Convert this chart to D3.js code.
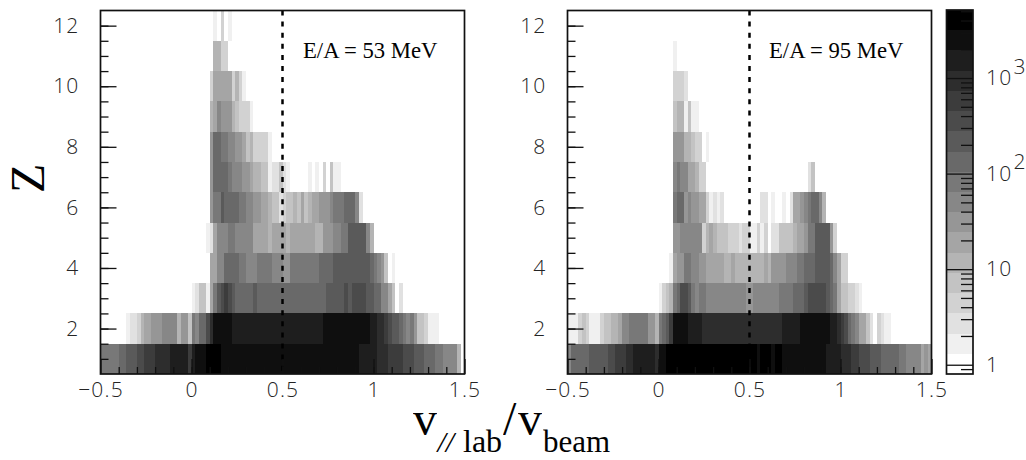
<!DOCTYPE html>
<html>
  <head>
    <meta charset="utf-8" />
    <script src="https://d3js.org/d3.v7.min.js"></script>
    <style>
      body { margin: 0; background: white; }
      svg { display: block; }
      .tick text { font-family: "Open Sans", sans-serif; font-weight: 300; font-size: 21px; letter-spacing: 1.2px; fill: #222; opacity: 0.99; }
      .tick line { stroke: #111; stroke-width: 1.3; }
      .frame { fill: none; stroke: #111; stroke-width: 1.7; }
      .serif { font-family: "Liberation Serif", serif; fill: black; opacity: 0.99; }
    </style>
  </head>
  <body>
    <svg id="chart" width="1026" height="460"></svg>

    <script>
      // bins: 100 in v (-0.5 .. 1.5), 12 in Z (0.5 .. 12.5)
      // rows go Z=1 .. Z=12, each row starts at its bin in *Start
      const leftStart = [0, 7, 25, 30, 29, 30, 30, 30, 30, 30, 31, 31];
      const leftRows = [
        [80, 80, 80, 80, 80, 130, 130, 210, 210, 210, 350, 350, 560, 560, 560, 920, 920, 920, 920, 1500,
          1500, 1500, 1500, 1500, 560, 1500, 2400, 2400, 2400, 3900, 3900, 3900, 3900,
          2400, 2400, 2400, 2400, 2400, 2400, 2400, 2400, 2400, 2400, 2400, 2400, 2400, 2400, 2400, 2400, 2400, 2400, 2400, 2400,
          2400, 2400, 2400, 2400, 2400, 2400, 2400, 2400, 2400, 2400, 2400, 2400, 2400, 2400, 2400, 2400, 2400, 2400,
          1500, 1500, 1500, 1500, 1500, 920, 920, 920, 560, 560, 560, 560, 350, 350, 350, 210, 210, 210, 130, 130, 130, 80, 80, 50, 50, 50, 50, 12],
        [2, 3, 3, 4, 12, 19, 19, 31, 31, 31, 50, 50, 50, 50, 12, 31, 31, 7, 80, 50, 130, 130, 350, 920,
          2400, 2400, 2400, 2400, 2400,
          1500, 1500, 1500, 1500, 1500, 1500, 1500, 1500, 1500, 1500, 1500, 1500, 1500, 1500, 1500, 1500, 1500, 1500, 1500, 1500, 1500, 1500, 1500, 1500, 1500,
          2400, 2400, 2400, 2400, 2400, 2400, 2400, 2400, 2400, 2400, 2400, 2400, 2400,
          1500, 1500, 920, 920, 560, 350, 210, 210, 130, 80, 50, 80, 31, 7, 7, 4, 2, 2, 2],
        [2, 3, 7, 7, 2, 19, 80, 210, 350, 560, 350, 210, 130, 130, 130, 130, 130, 210,
          130, 130, 130, 130, 130, 130, 130, 130, 130, 130, 130, 130, 130, 130, 130, 130, 130, 130, 130,
          210, 210, 210, 210, 210, 350, 210, 350, 350, 350, 350, 210, 210, 130, 130, 50, 50, 19, 7, 0, 3],
        [19, 19, 50, 50, 130, 130, 130, 130, 80, 80, 50, 50, 50, 80, 80, 80, 80, 50, 50, 50, 31, 31,
          80, 80, 80, 80, 80, 80, 80, 80, 130, 130, 130, 130,
          210, 210, 210, 210, 210, 210, 210, 210, 210, 210, 130, 80, 50, 31, 7, 0, 2],
        [2, 3, 19, 50, 50, 50, 80, 80, 50, 50, 50, 50, 50, 19, 19, 19, 19, 12, 19, 19, 19, 19, 12,
          19, 19, 19, 19, 19, 19, 19, 12, 12, 31, 31, 31, 50, 50, 80, 80, 210, 210, 210, 210, 210, 50, 12],
        [31, 80, 80, 210, 130, 130, 130, 130, 80, 80, 50, 50, 31, 31, 19, 19, 12, 7, 7, 3, 4, 7, 7, 12, 7, 19, 7, 12,
          19, 19, 31, 31, 31, 50, 80, 80, 80, 130, 130, 130, 50, 3],
        [31, 130, 130, 130, 130, 80, 50, 50, 50, 31, 31, 19, 12, 12, 7, 7, 2, 3, 3, 7, 3, 2,
          0, 0, 0, 0, 0, 2, 0, 2, 0, 4, 0, 7, 2, 2],
        [31, 130, 130, 80, 80, 50, 50, 31, 31, 19, 7, 12, 4, 4, 4, 4, 2],
        [12, 19, 50, 31, 31, 31, 12, 7, 4, 4, 4, 2],
        [4, 19, 19, 19, 19, 19, 4, 12, 4, 2],
        [12, 12, 4, 4],
        [2, 0, 4, 0, 2]
      ];

      const rightStart = [0, 0, 25, 28, 29, 29, 29, 29, 29, 29, 29, 0];
      const rightRows = [
        [50, 130, 130, 130, 130, 130, 210, 210, 210, 210, 210, 350, 350, 560, 560, 560, 920, 920,
          1500, 1500, 1500, 1500, 1500, 1500, 920, 2400, 2400,
          3900, 3900, 3900, 3900, 3900, 3900, 3900, 3900, 3900, 3900, 3900, 3900, 3900, 3900, 3900, 3900, 3900, 3900, 3900, 3900, 3900, 3900, 3900, 3900, 3900,
          2400, 3900, 3900, 3900, 2400, 3900, 3900,
          2400, 2400, 2400, 2400, 2400, 2400, 2400, 2400, 2400, 2400, 2400, 2400,
          1500, 1500, 1500, 1500, 920, 920, 920, 560, 560, 350, 350, 350, 210, 210, 210, 130, 130, 130, 130, 130, 80, 80, 50, 50, 50, 50, 19, 31, 19],
        [2, 2, 2, 4, 7, 4, 2, 2, 2, 4, 7, 7, 12, 12, 19, 50, 50, 80, 80, 80, 80, 80, 31, 31, 12, 80, 130, 210, 560,
          2400, 2400, 2400, 2400, 1500, 1500, 1500, 1500,
          920, 920, 920, 920, 920, 920, 920, 920, 920, 920, 920, 920, 920, 920, 920, 920, 920, 920, 920, 920, 920, 920,
          1500, 1500, 1500, 1500, 1500, 2400, 2400, 2400, 2400, 2400, 2400, 2400, 2400,
          1500, 1500, 920, 560, 350, 130, 80, 50, 19, 19, 7, 3, 0, 4, 3, 2, 2],
        [2, 4, 7, 12, 80, 130, 350, 350, 210, 80, 50, 80, 80, 50, 50, 50,
          50, 50, 50, 50, 50, 50, 50, 50, 31, 31,
          50, 50, 50, 50, 50, 50, 50, 80, 80, 80, 80, 130, 130, 130, 210, 350, 350, 350, 350, 350, 210, 130, 80, 19, 7, 7, 4, 4, 3, 2],
        [2, 19, 31, 31, 80, 80, 50, 50, 31, 31, 19, 19, 19, 19, 19, 12, 12, 19, 12, 12, 12, 12, 12, 12, 12, 12,
          19, 12, 31, 31, 31, 31, 50, 50, 50, 80, 80, 130, 130, 130, 210, 210, 210, 210, 130, 50, 19, 4, 4],
        [31, 31, 50, 50, 50, 50, 50, 50, 4, 12, 19, 12, 7, 7, 7, 4, 4, 4, 3, 4, 4, 2, 2, 4, 2, 4, 0, 3, 3, 7, 7, 7, 7,
          12, 19, 19, 31, 80, 80, 210, 210, 210, 210, 31, 4],
        [80, 130, 130, 31, 50, 31, 31, 19, 19, 4, 2, 3, 2, 3, 0, 0, 0, 0, 0, 0, 0, 0, 0, 0, 3, 3, 0, 2, 0, 0, 2, 0, 3,
          19, 19, 31, 50, 80, 130, 130, 50, 12],
        [50, 80, 50, 50, 19, 19, 12, 4, 4, 0, 0, 0, 0, 0, 0, 0, 0, 0, 0, 0, 0, 0, 0, 0, 0, 0, 0, 0, 0, 0, 0, 0, 0, 0, 0, 0, 0, 3, 7],
        [31, 31, 31, 12, 12, 7, 4, 4, 0, 2],
        [7, 12, 12, 2, 7, 2, 2],
        [4, 4, 4, 3],
        [2],
        []
      ];

      const panelTitles = ["E/A = 53 MeV", "E/A = 95 MeV"];
      const xMajorTicks = [-0.5, 0, 0.5, 1, 1.5];
      const xTickLabels = ["\u22120.5", "0", "0.5", "1", "1.5"];
      const xMinorTicks = d3.range(-0.4, 1.45, 0.1);
      const zMajorTicks = [2, 4, 6, 8, 10, 12];
      const zMinorTicks = d3.range(1, 12.5, 0.5);
      const barMajorTicks = [1, 10, 100, 1000];
      const barMinorTicks = [0.9, 2, 3, 4, 5, 6, 7, 8, 9, 20, 30, 40, 50, 60, 70, 80, 90, 200, 300, 400, 500, 600, 700, 800, 900, 2000, 3000, 4000, 5000];
      const greys = ["#ffffff", "#f0f0f0", "#e1e1e1", "#d2d2d2", "#c3c3c3", "#b4b4b4", "#a5a5a5", "#969696", "#878787", "#787878", "#696969", "#5a5a5a", "#4b4b4b", "#3c3c3c", "#2d2d2d", "#1e1e1e", "#0f0f0f", "#000000"];

      const svg = d3.select("#chart");
      const binWidth = 0.02;
      const plotTop = 10.5, plotBottom = 374;

      const z = d3.scaleLinear().domain([0.5, 12.5]).range([plotBottom, plotTop]);
      const logMin = -0.097, logMax = 3.712;
      const color = d3.scaleQuantize().domain([logMin, logMax]).range(greys);
      const barY = d3.scaleLog().domain([Math.pow(10, logMin), Math.pow(10, logMax)]).range([374, 10]);

      function drawPanel(x0, starts, rows, title, titleX) {
        const x = d3.scaleLinear().domain([-0.5, 1.5]).range([x0, x0 + 364]);
        const g = svg.append("g");

        rows.forEach(function (row, r) {
          g.append("g")
            .selectAll("rect")
            .data(row.map(function (v, i) { return { bin: starts[r] + i, v: v, zc: r + 1 }; }).filter(function (d) { return d.v > 0; }))
            .join("rect")
            .attr("shape-rendering", "crispEdges")
            .attr("x", function (d) { return x(-0.5 + d.bin * binWidth); })
            .attr("width", function (d) { return x(-0.5 + (d.bin + 1) * binWidth) - x(-0.5 + d.bin * binWidth); })
            .attr("y", function (d) { return z(d.zc + 0.5); })
            .attr("height", function (d) { return z(d.zc - 0.5) - z(d.zc + 0.5); })
            .attr("fill", function (d) { return color(Math.log10(d.v)); });
        });

        // dashed line at v = 0.5
        g.append("line")
          .attr("x1", x(0.5)).attr("x2", x(0.5))
          .attr("y1", plotTop).attr("y2", plotBottom)
          .attr("stroke", "black").attr("stroke-width", 2.5)
          .attr("stroke-dasharray", "5 6.1");

        // ticks point inward, like the old ROOT frames
        g.append("g").attr("transform", "translate(0," + plotBottom + ")")
          .call(d3.axisBottom(x).tickValues(xMinorTicks).tickSize(-7).tickFormat(""))
          .call(function (a) { a.select(".domain").remove(); });
        g.append("g").attr("transform", "translate(0," + plotBottom + ")")
          .call(d3.axisBottom(x).tickValues(xMajorTicks).tickSize(-15).tickPadding(8)
            .tickFormat(function (d, i) { return xTickLabels[i]; }))
          .call(function (a) { a.select(".domain").remove(); });
        g.append("g").attr("transform", "translate(" + x0 + ",0)")
          .call(d3.axisLeft(z).tickValues(zMinorTicks).tickSize(-8).tickFormat(""))
          .call(function (a) { a.select(".domain").remove(); });
        g.append("g").attr("transform", "translate(" + x0 + ",0)")
          .call(d3.axisLeft(z).tickValues(zMajorTicks).tickSize(-16).tickPadding(21).tickFormat(d3.format("d")))
          .call(function (a) { a.select(".domain").remove(); });

        g.append("rect").attr("class", "frame")
          .attr("x", x0).attr("y", plotTop).attr("width", 364).attr("height", plotBottom - plotTop);

        g.append("text").attr("class", "serif")
          .attr("x", titleX).attr("y", 57.5).attr("font-size", 22.7)
          .text(title);
      }

      drawPanel(100.5, leftStart, leftRows, panelTitles[0], 303);
      drawPanel(567.5, rightStart, rightRows, panelTitles[1], 769);

      // colour bar
      const bar = svg.append("g");
      bar.selectAll("rect")
        .data(greys)
        .join("rect")
        .attr("shape-rendering", "crispEdges")
        .attr("x", 947).attr("width", 26)
        .attr("y", function (d, i) { return barY(Math.pow(10, color.invertExtent(d)[1])); })
        .attr("height", function (d, i) {
          const e = color.invertExtent(d);
          return barY(Math.pow(10, e[0])) - barY(Math.pow(10, e[1]));
        })
        .attr("fill", function (d) { return d; });

      bar.append("g").attr("transform", "translate(973,0)")
        .call(d3.axisRight(barY).tickValues(barMinorTicks).tickSize(-12).tickFormat(""))
        .call(function (a) { a.select(".domain").remove(); });
      bar.append("g").attr("transform", "translate(973,0)")
        .call(d3.axisRight(barY).tickValues(barMajorTicks).tickSize(-26).tickPadding(13)
          .tickFormat(function (d) { return d >= 100 ? "10" : d; }))
        .call(function (a) { a.select(".domain").remove(); })
        .selectAll(".tick text")
        .filter(function (d) { return d >= 100; })
        .append("tspan")
        .attr("dx", 1)
        .attr("dy", "-0.55em")
        .text(function (d) { return Math.round(Math.log10(d)); });

      bar.append("rect").attr("class", "frame").attr("stroke-width", 1.3)
        .attr("x", 946.5).attr("y", 10).attr("width", 26.5).attr("height", 364);

      // axis titles
      svg.append("text").attr("class", "serif")
        .attr("transform", "translate(44,193) rotate(-90)")
        .attr("font-size", 48)
        .text("Z");

      function titlePart(s, x, y, size, style) {
        svg.append("text").attr("class", "serif")
          .attr("x", x).attr("y", y)
          .attr("font-size", size)
          .attr("font-style", style || "normal")
          .text(s);
      }
      titlePart("v", 413, 435, 48);
      titlePart("//", 437.5, 452, 30, "italic");
      titlePart("lab", 463, 452, 32);
      titlePart("/", 503, 435, 48);
      titlePart("v", 518, 435, 48);
      titlePart("beam", 543, 452, 31);
    </script>
  </body>
</html>
